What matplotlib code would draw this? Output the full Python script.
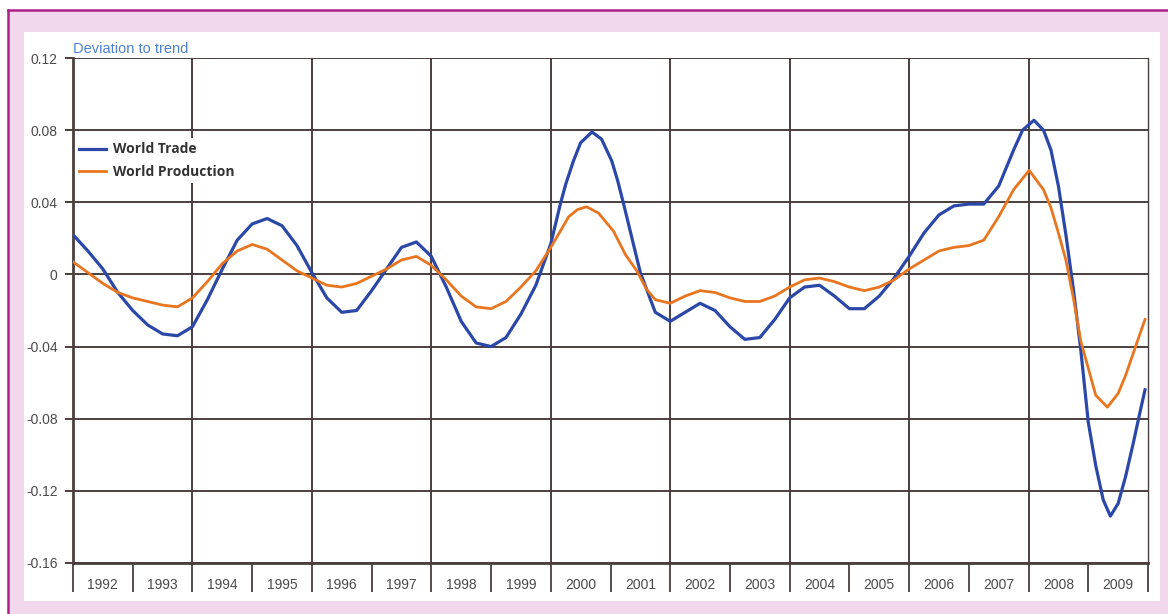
import numpy as np
import matplotlib
matplotlib.use('Agg')
import matplotlib.pyplot as plt
from matplotlib.patches import Rectangle
from matplotlib.lines import Line2D

# deviation to trend
trade_t = [1992.00, 1992.25, 1992.50, 1992.75, 1993.00, 1993.25, 1993.50, 1993.75,
           1994.00, 1994.25, 1994.50, 1994.75, 1995.00, 1995.25, 1995.50, 1995.75,
           1996.00, 1996.25, 1996.50, 1996.75, 1997.00, 1997.25, 1997.50, 1997.75,
           1998.00, 1998.25, 1998.50, 1998.75, 1999.00, 1999.25, 1999.50, 1999.75,
           2000.00, 2000.16, 2000.25, 2000.38, 2000.50, 2000.69, 2000.85, 2001.02,
           2001.12, 2001.22, 2001.36, 2001.50, 2001.75,
           2002.00, 2002.25, 2002.50, 2002.75, 2003.00, 2003.25, 2003.50, 2003.75,
           2004.00, 2004.25, 2004.50, 2004.75, 2005.00, 2005.25, 2005.50, 2005.75,
           2006.00, 2006.25, 2006.50, 2006.75, 2007.00, 2007.25, 2007.50, 2007.75,
           2007.90, 2008.09, 2008.25, 2008.375, 2008.50, 2008.625, 2008.75, 2008.875,
           2009.00, 2009.125, 2009.25, 2009.37, 2009.50, 2009.625, 2009.75, 2009.875,
           2009.95]
trade_v = [0.022, 0.013, 0.003, -0.010, -0.020, -0.028, -0.033, -0.034,
           -0.029, -0.014, 0.003, 0.019, 0.028, 0.031, 0.027, 0.016,
           0.001, -0.013, -0.021, -0.020, -0.009, 0.003, 0.015, 0.018,
           0.010, -0.007, -0.026, -0.038, -0.040, -0.035, -0.022, -0.006,
           0.017, 0.039, 0.050, 0.063, 0.073, 0.079, 0.075, 0.063,
           0.052, 0.039, 0.020, 0.001, -0.021,
           -0.026, -0.021, -0.016, -0.020, -0.029, -0.036, -0.035, -0.025,
           -0.013, -0.007, -0.006, -0.012, -0.019, -0.019, -0.012, -0.002,
           0.010, 0.023, 0.033, 0.038, 0.039, 0.039, 0.049, 0.069,
           0.080, 0.0855, 0.080, 0.069, 0.049, 0.022, -0.008, -0.042,
           -0.082, -0.106, -0.125, -0.134, -0.127, -0.112, -0.094, -0.075,
           -0.064]

prod_t = [1992.00, 1992.25, 1992.50, 1992.75, 1993.00, 1993.25, 1993.50, 1993.75,
          1994.00, 1994.25, 1994.50, 1994.75, 1995.00, 1995.25, 1995.50, 1995.75,
          1996.00, 1996.25, 1996.50, 1996.75, 1997.00, 1997.25, 1997.50, 1997.75,
          1998.00, 1998.25, 1998.50, 1998.75, 1999.00, 1999.25, 1999.50, 1999.75,
          2000.00, 2000.16, 2000.30, 2000.45, 2000.60, 2000.80, 2001.05, 2001.25,
          2001.44, 2001.60, 2001.75,
          2002.00, 2002.25, 2002.50, 2002.75, 2003.00, 2003.25, 2003.50, 2003.75,
          2004.00, 2004.25, 2004.50, 2004.75, 2005.00, 2005.25, 2005.50, 2005.75,
          2006.00, 2006.25, 2006.50, 2006.75, 2007.00, 2007.25, 2007.50, 2007.75,
          2008.01, 2008.25, 2008.375, 2008.50, 2008.625, 2008.75, 2008.875,
          2009.00, 2009.125, 2009.32, 2009.50, 2009.625, 2009.75, 2009.875, 2009.95]
prod_v = [0.007, 0.001, -0.005, -0.010, -0.013, -0.015, -0.017, -0.018,
          -0.013, -0.004, 0.006, 0.013, 0.0166, 0.014, 0.008, 0.002,
          -0.002, -0.006, -0.007, -0.005, -0.001, 0.003, 0.008, 0.010,
          0.005, -0.003, -0.012, -0.018, -0.019, -0.015, -0.007, 0.002,
          0.015, 0.024, 0.032, 0.036, 0.0375, 0.034, 0.024, 0.011,
          0.002, -0.008, -0.014,
          -0.016, -0.012, -0.009, -0.010, -0.013, -0.015, -0.015, -0.012,
          -0.007, -0.003, -0.002, -0.004, -0.007, -0.009, -0.007, -0.003,
          0.003, 0.008, 0.013, 0.015, 0.016, 0.019, 0.032, 0.047,
          0.0577, 0.047, 0.037, 0.023, 0.008, -0.013, -0.037,
          -0.052, -0.067, -0.0736, -0.066, -0.056, -0.044, -0.032, -0.025]

years = list(range(1992, 2010))
y_ticks = [0.12, 0.08, 0.04, 0, -0.04, -0.08, -0.12, -0.16]
y_labels = ['0.12', '0.08', '0.04', '0', '-0.04', '-0.08', '-0.12', '-0.16']

W, H = 1168, 614
fig = plt.figure(figsize=(W / 100, H / 100), dpi=100, facecolor='white')

# pink frame with magenta top/left rule, white panel inside
def px_rect(x0, y0, x1, y1, **kw):
    fig.patches.append(Rectangle((x0 / W, 1 - y1 / H), (x1 - x0) / W, (y1 - y0) / H,
                                 transform=fig.transFigure, zorder=-5, **kw))

px_rect(8, 10, W, H, facecolor='#f1d8ed', edgecolor='none')
fig.lines.append(Line2D([8 / W, 1], [1 - 10 / H, 1 - 10 / H], transform=fig.transFigure,
                        color='#b0208c', lw=1.8, zorder=-4))
fig.lines.append(Line2D([8 / W, 8 / W], [0, 1 - 10 / H], transform=fig.transFigure,
                        color='#b0208c', lw=1.8, zorder=-4))
px_rect(24, 32, 1160, 601, facecolor='white', edgecolor='none')

ax = fig.add_axes([73 / W, 51 / H, (1148 - 73) / W, (563 - 58) / H])
ax.set_facecolor('white')
ax.set_xlim(1992, 2010)
ax.set_ylim(-0.16, 0.12)

grid_c = '#4a3e3e'
for v in y_ticks:
    ax.axhline(v, color=grid_c, lw=1.4, zorder=1)
for yr in range(1994, 2010, 2):
    ax.axvline(yr, color=grid_c, lw=1.4, zorder=1)

ax.plot(trade_t, trade_v, color='#2b48a8', lw=2.3, label='World Trade',
        zorder=3, solid_joinstyle='round')
ax.plot(prod_t, prod_v, color='#e8751f', lw=2.0, label='World Production',
        zorder=3, solid_joinstyle='round')

for s in ['left', 'bottom']:
    ax.spines[s].set_color(grid_c)
    ax.spines[s].set_linewidth(2.0)
ax.spines['right'].set_color(grid_c)
ax.spines['right'].set_linewidth(1.0)
ax.spines['top'].set_visible(False)

ax.set_yticks(y_ticks)
ax.set_yticklabels(y_labels)
ax.set_xticks(list(range(1992, 2011)))
ax.set_xticklabels([])
ax.set_xticks([yr + 0.5 for yr in years], minor=True)
ax.set_xticklabels([str(yr) for yr in years], minor=True)
ax.tick_params(axis='x', which='major', direction='out', length=21, width=1.3, color=grid_c)
ax.tick_params(axis='x', which='minor', length=0, pad=11, labelsize=10, labelcolor='#4a4a4a')
ax.tick_params(axis='y', direction='out', length=6, width=1.4, color=grid_c,
               pad=5, labelsize=10, labelcolor='#4a4a4a')
for lab in ax.get_xticklabels(minor=True) + ax.get_yticklabels():
    lab.set_fontfamily('Liberation Sans')

ax.text(0.0, 1.003, 'Deviation to trend', transform=ax.transAxes, fontsize=10.5,
        color='#4d80d0', family='Liberation Sans', va='bottom', ha='left')

leg = ax.legend(loc='upper left', bbox_to_anchor=(0.002, 0.841), borderaxespad=0,
                frameon=True, facecolor='white', edgecolor='none', framealpha=1,
                fancybox=False, borderpad=0.3, handlelength=1.9, handletextpad=0.5,
                labelspacing=0.6,
                prop={'family': 'Open Sans', 'weight': 'bold', 'size': 10})
for t in leg.get_texts():
    t.set_color('#333333')
leg.set_zorder(2)

fig.savefig('out.png', dpi=100, facecolor=fig.get_facecolor())
